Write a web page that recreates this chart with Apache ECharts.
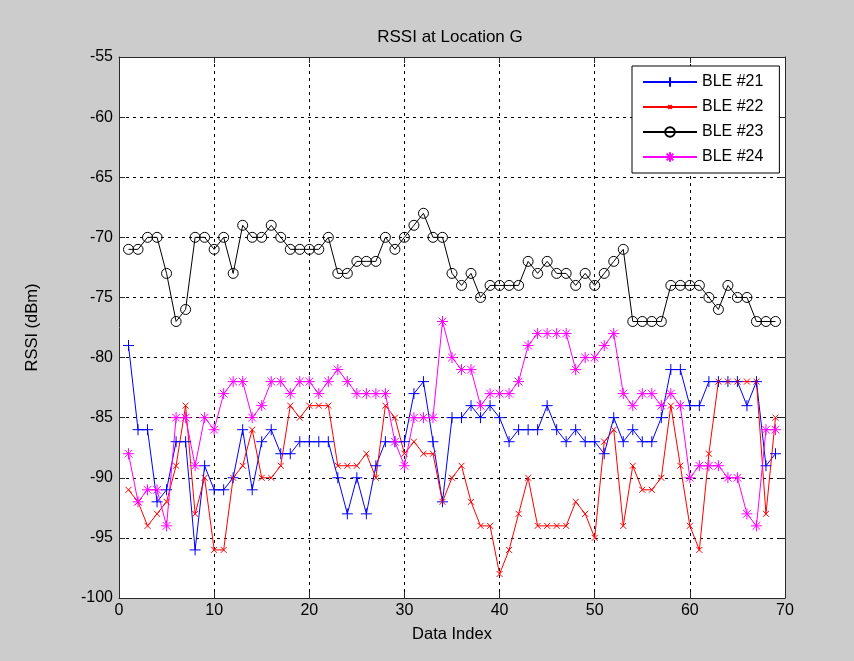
<!DOCTYPE html>
<html><head><meta charset="utf-8">
<script src="https://cdn.jsdelivr.net/npm/echarts@6/dist/echarts.min.js"></script>
<style>html,body{margin:0;padding:0;background:#cccccc}#c{width:854px;height:661px}</style>
</head><body><div id="c"></div>
<script>
// ---- data ----
const dataIndex = [1,2,3,4,5,6,7,8,9,10,11,12,13,14,15,16,17,18,19,20,21,22,23,24,25,26,27,28,29,30,31,32,33,34,35,36,37,38,39,40,41,42,43,44,45,46,47,48,49,50,51,52,53,54,55,56,57,58,59,60,61,62,63,64,65,66,67,68,69];
const seriesNames = ['BLE #21', 'BLE #22', 'BLE #23', 'BLE #24'];
const ble21 = [-79,-86,-86,-92,-91,-87,-87,-96,-89,-91,
               -91,-90,-86,-91,-87,-86,-88,-88,-87,-87,
               -87,-87,-90,-93,-90,-93,-89,-87,-87,-87,
               -83,-82,-87,-92,-85,-85,-84,-85,-84,-85,
               -87,-86,-86,-86,-84,-86,-87,-86,-87,-87,
               -88,-85,-87,-86,-87,-87,-85,-81,-81,-84,
               -84,-82,-82,-82,-82,-84,-82,-89,-88];
const ble22 = [-91,-92,-94,-93,-92,-89,-84,-93,-90,-96,
               -96,-90,-89,-86,-90,-90,-89,-84,-85,-84,
               -84,-84,-89,-89,-89,-88,-90,-84,-85,-88,
               -87,-88,-88,-92,-90,-89,-92,-94,-94,-98,
               -96,-93,-90,-94,-94,-94,-94,-92,-93,-95,
               -87,-86,-94,-89,-91,-91,-90,-84,-89,-94,
               -96,-88,-82,-82,-82,-82,-82,-93,-85];
const ble23 = [-71,-71,-70,-70,-73,-77,-76,-70,-70,-71,
               -70,-73,-69,-70,-70,-69,-70,-71,-71,-71,
               -71,-70,-73,-73,-72,-72,-72,-70,-71,-70,
               -69,-68,-70,-70,-73,-74,-73,-75,-74,-74,
               -74,-74,-72,-73,-72,-73,-73,-74,-73,-74,
               -73,-72,-71,-77,-77,-77,-77,-74,-74,-74,
               -74,-75,-76,-74,-75,-75,-77,-77,-77];
const ble24 = [-88,-92,-91,-91,-94,-85,-85,-89,-85,-86,
               -83,-82,-82,-85,-84,-82,-82,-83,-82,-82,
               -83,-82,-81,-82,-83,-83,-83,-83,-87,-89,
               -85,-85,-85,-77,-80,-81,-81,-84,-83,-83,
               -83,-82,-79,-78,-78,-78,-78,-81,-80,-80,
               -79,-78,-83,-84,-83,-83,-84,-83,-84,-90,
               -89,-89,-89,-90,-90,-93,-94,-86,-86];
const xTickValues = [0,10,20,30,40,50,60,70];
const yTickValues = [-100,-95,-90,-85,-80,-75,-70,-65,-60,-55];
const titleText = 'RSSI at Location G';
const xName = 'Data Index';
const yName = 'RSSI (dBm)';

// ---- styling ----
const FONT = 'Liberation Sans, Arial, sans-serif';
const colors = ['#0000ff', '#ff0000', '#000000', '#ff00ff'];
const symbols = [
  'path://M0,5L10,5M5,0L5,10',
  'path://M0,0L0,0M16,16L16,16M5,5L11,11M11,5L5,11',
  'path://M0,5A5,5,0,1,1,10,5A5,5,0,1,1,0,5Z',
  'path://M5,0L5,10M0,5L10,5M1.5,1.5L8.5,8.5M8.5,1.5L1.5,8.5'
];
const symbolSizes = [11, 16, 10, 11];
const allValues = [ble21, ble22, ble23, ble24];

const pair = arr => dataIndex.map((x, i) => [x, arr[i]]);

const frame = { show: true, onZero: false, lineStyle: { color: '#2a2a2a', width: 1 } };
const tick = { show: true, inside: true, length: 6, lineStyle: { color: '#2a2a2a' } };

const chart = echarts.init(document.getElementById('c'), null, { renderer: 'canvas' });
chart.setOption({
  animation: false,
  backgroundColor: '#cccccc',
  title: {
    text: titleText, left: 450, textAlign: 'center', top: 29, padding: 0,
    textStyle: { fontFamily: FONT, fontSize: 17, fontWeight: 'normal', color: '#000' }
  },
  grid: { left: 119, right: 69, top: 57, bottom: 63, show: true, backgroundColor: '#ffffff', borderWidth: 0 },
  legend: {
    data: seriesNames,
    orient: 'vertical', left: 632, top: 66,
    padding: [8, 16, 8, 10],
    itemWidth: 54, itemHeight: 12, itemGap: 9,
    backgroundColor: '#ffffff', borderColor: '#000', borderWidth: 1, borderRadius: 0,
    textStyle: { fontFamily: FONT, fontSize: 16, color: '#000' }
  },
  xAxis: [{
    type: 'value', min: xTickValues[0], max: xTickValues[xTickValues.length - 1], interval: 10,
    name: xName, nameLocation: 'middle', nameGap: 28,
    nameTextStyle: { fontFamily: FONT, fontSize: 16.5, color: '#000' },
    axisLine: frame, axisTick: tick,
    axisLabel: { fontFamily: FONT, fontSize: 16, color: '#000', margin: 5 },
    splitLine: { show: true, lineStyle: { color: '#000', type: [3, 4], width: 1 } }
  }, {
    type: 'value', position: 'top', min: xTickValues[0], max: xTickValues[xTickValues.length - 1], interval: 10,
    axisLine: frame, axisTick: tick, axisLabel: { show: false }, splitLine: { show: false }
  }],
  yAxis: [{
    type: 'value', min: yTickValues[0], max: yTickValues[yTickValues.length - 1], interval: 5,
    name: yName, nameLocation: 'middle', nameGap: 78, nameRotate: 90,
    nameTextStyle: { fontFamily: FONT, fontSize: 16.5, color: '#000' },
    axisLine: frame, axisTick: tick,
    axisLabel: { fontFamily: FONT, fontSize: 16, color: '#000', margin: 6 },
    splitLine: { show: true, lineStyle: { color: '#000', type: [3, 4], width: 1 } }
  }, {
    type: 'value', position: 'right', min: yTickValues[0], max: yTickValues[yTickValues.length - 1], interval: 5,
    axisLine: frame, axisTick: tick, axisLabel: { show: false }, splitLine: { show: false }
  }],
  series: seriesNames.map((name, k) => ({
    name: name,
    type: 'line',
    xAxisIndex: 0, yAxisIndex: 0,
    data: pair(allValues[k]),
    symbol: symbols[k],
    symbolSize: symbolSizes[k],
    showSymbol: true,
    showAllSymbol: true,
    silent: true,
    lineStyle: { color: colors[k], width: 1 },
    itemStyle: { color: 'rgba(0,0,0,0)', borderColor: colors[k], borderWidth: 1 },
    emphasis: { disabled: true }
  }))
});
</script>
</body></html>
